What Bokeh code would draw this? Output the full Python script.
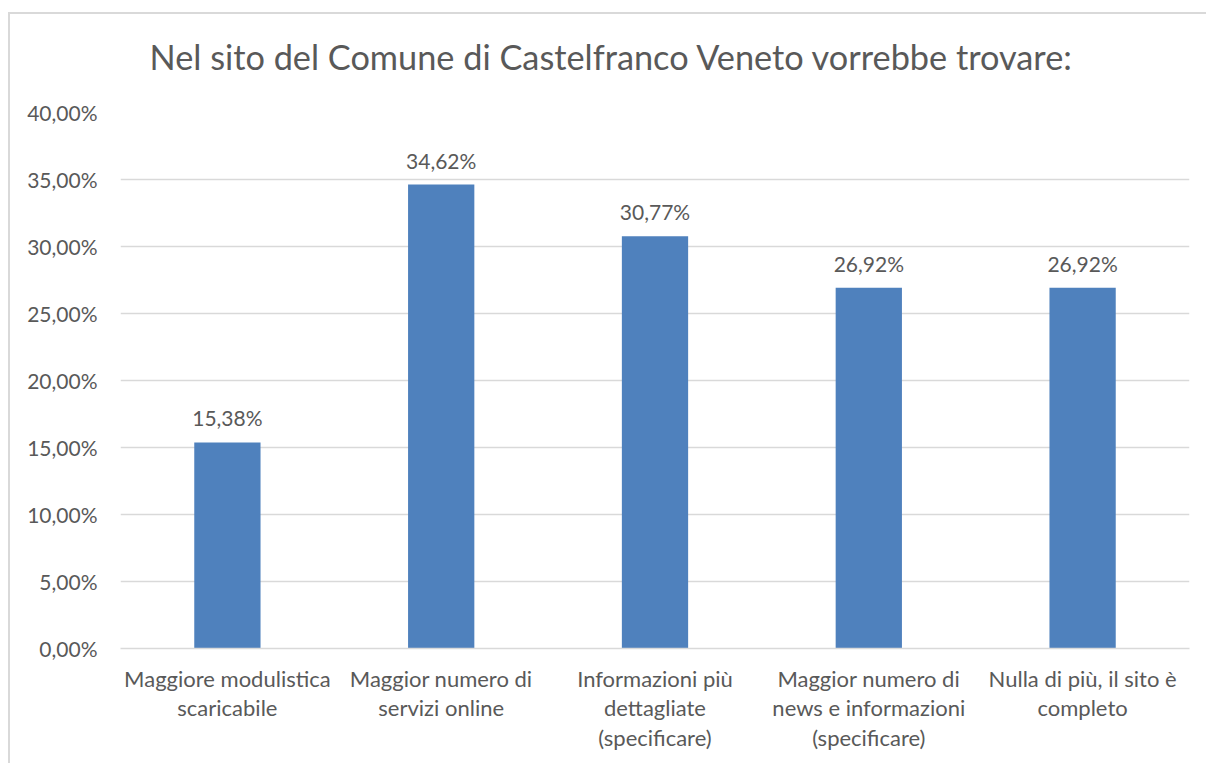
from bokeh.plotting import figure
from bokeh.models import Title, FactorRange, Range1d, CustomJSTickFormatter, FixedTicker, ColumnDataSource
from bokeh.core.properties import value
from bokeh.embed import file_html
from bokeh.resources import INLINE

title_text = "Nel sito del Comune di Castelfranco Veneto vorrebbe trovare:"
categories = [
    "Maggiore modulistica\nscaricabile",
    "Maggior numero di\nservizi online",
    "Informazioni più\ndettagliate\n(specificare)",
    "Maggior numero di\nnews e informazioni\n(specificare)",
    "Nulla di più, il sito è\ncompleto",
]
values = [15.38, 34.62, 30.77, 26.92, 26.92]
y_ticks = [0, 5, 10, 15, 20, 25, 30, 35, 40]

labels = [("%.2f" % v).replace(".", ",") + "%" for v in values]

FONT = "Lato"
TXT = "#595959"
GRID = "#D9D9D9"
BAR = "#4F81BD"

src = ColumnDataSource(dict(cat=categories, val=values, lab=labels))

p = figure(
    width=1206, height=763,
    x_range=FactorRange(factors=categories, range_padding=0),
    y_range=Range1d(0, 40),
    output_backend="svg", toolbar_location=None,
    min_border_left=120, min_border_top=112, min_border_right=17, min_border_bottom=115,
)
# chart-area border (left and top edges visible in the window)
p.styles = {
    "background-color": "white",
    "background-image": "linear-gradient(#D9D9D9, #D9D9D9), linear-gradient(#D9D9D9, #D9D9D9)",
    "background-size": "2px 760px, 1200px 2px",
    "background-position": "8px 12px, 8px 12px",
    "background-repeat": "no-repeat",
}
p.outline_line_color = None
p.background_fill_color = "white"
p.border_fill_alpha = 0

p.vbar(x="cat", top="val", width=0.31, source=src, fill_color=BAR, line_color=None)
p.text(x="cat", y="val", text="lab", source=src, text_align="center", text_baseline="bottom",
       y_offset=-12, text_font=value(FONT), text_font_size="21px", text_color=TXT)

# axes
p.xgrid.grid_line_color = None
p.ygrid.grid_line_color = GRID
p.ygrid.grid_line_width = 1.5
p.yaxis.ticker = FixedTicker(ticks=y_ticks)
p.yaxis.formatter = CustomJSTickFormatter(code="return tick.toFixed(2).replace('.', ',') + '%';")
p.yaxis.axis_line_color = None
p.yaxis.major_tick_line_color = None
p.yaxis.minor_tick_line_color = None
p.yaxis.major_label_standoff = 17
p.yaxis.major_label_text_font = FONT
p.yaxis.major_label_text_font_size = "21px"
p.yaxis.major_label_text_color = TXT

p.xaxis.axis_line_color = GRID
p.xaxis.axis_line_width = 1.5
p.xaxis.major_tick_line_color = None
p.xaxis.minor_tick_line_color = None
p.xaxis.major_label_standoff = 10
p.xaxis.major_label_text_font = FONT
p.xaxis.major_label_text_font_size = "22px"
p.xaxis.major_label_text_color = TXT
p.xaxis.major_label_text_line_height = 1.1

p.add_layout(Title(text=title_text, align="left", offset=29, standoff=67,
                   vertical_align="top",
                   text_font=FONT, text_font_size="34.3px", text_font_style="normal",
                   text_color=TXT), "above")

open("out.html", "w").write(file_html(p, INLINE))
